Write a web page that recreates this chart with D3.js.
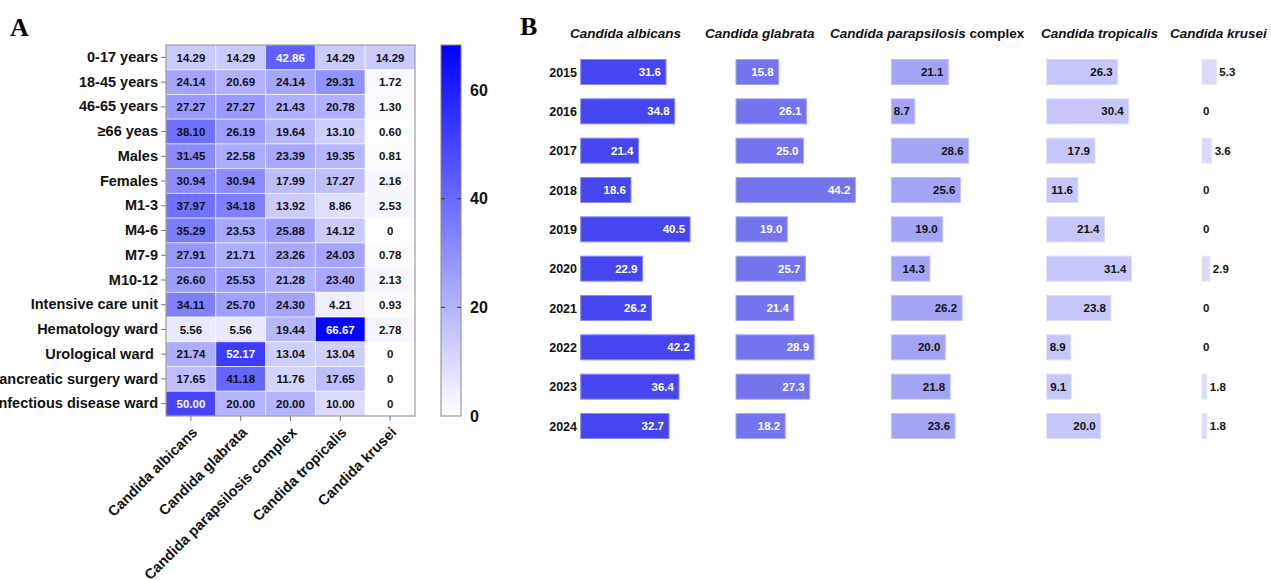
<!DOCTYPE html>
<html>
  <head>
    <meta charset="utf-8" />
    <title>Candida distribution</title>
    <script src="https://cdn.jsdelivr.net/npm/d3@7/dist/d3.min.js"></script>
    <style>
      body { margin: 0; background: #fff; }
      text { font-family: "Liberation Sans", Arial, Helvetica, sans-serif; }
    </style>
  </head>
  <body>
    <div id="canvas"></div>
  </body>
  <script>
    // ---- panel A data (percent by group) ----
    const species = ["Candida albicans", "Candida glabrata", "Candida parapsilosis complex", "Candida tropicalis", "Candida krusei"];
    const groups = ["0-17 years", "18-45 years", "46-65 years", "≥66 yeas", "Males", "Females", "M1-3", "M4-6", "M7-9", "M10-12",
      "Intensive care unit", "Hematology ward", "Urological ward\u00a0", "Pancreatic surgery ward", "Infectious disease ward"];
    const albicansA = [14.29, 24.14, 27.27, 38.10, 31.45, 30.94, 37.97, 35.29, 27.91, 26.60, 34.11, 5.56, 21.74, 17.65, 50.00];
    const glabrataA = [14.29, 20.69, 27.27, 26.19, 22.58, 30.94, 34.18, 23.53, 21.71, 25.53, 25.70, 5.56, 52.17, 41.18, 20.00];
    const parapsilosisA = [42.86, 24.14, 21.43, 19.64, 23.39, 17.99, 13.92, 25.88, 23.26, 21.28, 24.30, 19.44, 13.04, 11.76, 20.00];
    const tropicalisA = [14.29, 29.31, 20.78, 13.10, 19.35, 17.27, 8.86, 14.12, 24.03, 23.40, 4.21, 66.67, 13.04, 17.65, 10.00];
    const kruseiA = [14.29, 1.72, 1.30, 0.60, 0.81, 2.16, 2.53, 0, 0.78, 2.13, 0.93, 2.78, 0, 0, 0];
    const colorTicks = [0, 20, 40, 60];

    // ---- panel B data (percent by year) ----
    const years = ["2015", "2016", "2017", "2018", "2019", "2020", "2021", "2022", "2023", "2024"];
    const albicansB = [31.6, 34.8, 21.4, 18.6, 40.5, 22.9, 26.2, 42.2, 36.4, 32.7];
    const glabrataB = [15.8, 26.1, 25.0, 44.2, 19.0, 25.7, 21.4, 28.9, 27.3, 18.2];
    const parapsilosisB = [21.1, 8.7, 28.6, 25.6, 19.0, 14.3, 26.2, 20.0, 21.8, 23.6];
    const tropicalisB = [26.3, 30.4, 17.9, 11.6, 21.4, 31.4, 23.8, 8.9, 9.1, 20.0];
    const kruseiB = [5.3, 0, 3.6, 0, 0, 2.9, 0, 0, 1.8, 1.8];

    const width = 1271, height = 580;
    const svg = d3.select("#canvas").append("svg")
      .attr("width", width).attr("height", height)
      .attr("viewBox", [0, 0, width, height]);

    // panel letters
    svg.append("text").attr("x", 10).attr("y", 36)
      .style("font-family", "'Liberation Serif', 'Times New Roman', serif")
      .style("font-weight", "bold").style("font-size", "26px").text("A");
    svg.append("text").attr("x", 520).attr("y", 35)
      .style("font-family", "'Liberation Serif', 'Times New Roman', serif")
      .style("font-weight", "bold").style("font-size", "26px").text("B");

    // ================= Panel A: heatmap =================
    const colsA = [albicansA, glabrataA, parapsilosisA, tropicalisA, kruseiA];
    const cells = [];
    species.forEach((s, j) => groups.forEach((g, i) => cells.push({ s, g, v: colsA[j][i] })));

    const x = d3.scaleBand().domain(species).range([166, 415]);
    const y = d3.scaleBand().domain(groups).range([45, 416]);
    const color = d3.scaleLinear().domain([0, 68.3]).range(["#ffffff", "#0000ff"]);

    const hm = svg.append("g");
    hm.selectAll("rect").data(cells).join("rect")
      .attr("x", d => x(d.s)).attr("y", d => y(d.g))
      .attr("width", x.bandwidth()).attr("height", y.bandwidth())
      .attr("fill", d => color(d.v))
      .attr("stroke", "rgba(255,255,255,0.55)").attr("stroke-width", 1);

    hm.selectAll("text").data(cells).join("text")
      .attr("x", d => x(d.s) + x.bandwidth() / 2)
      .attr("y", d => y(d.g) + y.bandwidth() / 2)
      .attr("dy", "0.36em")
      .attr("text-anchor", "middle")
      .style("font-size", "11.5px").style("font-weight", "bold")
      .attr("fill", d => d.v > 42 ? "#fff" : "#111")
      .text(d => d.v === 0 ? "0" : d.v.toFixed(2));

    hm.append("rect").attr("x", 166).attr("y", 45).attr("width", 249).attr("height", 371)
      .attr("fill", "none").attr("stroke", "#888").attr("stroke-width", 1);

    // y axis
    const yAxis = svg.append("g").attr("transform", "translate(166,0)")
      .call(d3.axisLeft(y).tickSize(5).tickPadding(3));
    yAxis.select(".domain").remove();
    yAxis.selectAll("line").attr("stroke", "#777");
    yAxis.selectAll("text").style("font-size", "14.5px").style("font-weight", "bold")
      .style("font-family", "'Liberation Sans', Arial, sans-serif").attr("fill", "#111");

    // x axis
    const xAxis = svg.append("g").attr("transform", "translate(0,416)")
      .call(d3.axisBottom(x).tickSize(5));
    xAxis.select(".domain").remove();
    xAxis.selectAll("line").attr("stroke", "#777");
    xAxis.selectAll("text")
      .style("font-size", "14.5px").style("font-weight", "bold")
      .style("font-family", "'Liberation Sans', Arial, sans-serif").attr("fill", "#111")
      .attr("text-anchor", "end")
      .attr("transform", "translate(-2,8) rotate(-45)")
      .attr("x", 0).attr("y", 8).attr("dy", "0.35em");

    // color bar
    const cb = d3.scaleLinear().domain([0, 68.3]).range([416, 45]);
    const defs = svg.append("defs");
    const grad = defs.append("linearGradient").attr("id", "cbar")
      .attr("x1", 0).attr("y1", 1).attr("x2", 0).attr("y2", 0);
    grad.append("stop").attr("offset", "0%").attr("stop-color", color(0));
    grad.append("stop").attr("offset", "100%").attr("stop-color", color(68.3));
    svg.append("rect").attr("x", 441).attr("y", cb(68.3)).attr("width", 20)
      .attr("height", cb(0) - cb(68.3)).attr("fill", "url(#cbar)")
      .attr("stroke", "#888").attr("stroke-width", 1);
    const cbg = svg.append("g");
    cbg.selectAll("line.l").data(colorTicks.filter(t => t > 0)).join("line")
      .attr("x1", 441).attr("x2", 445).attr("y1", d => cb(d)).attr("y2", d => cb(d))
      .attr("stroke", "#333");
    cbg.selectAll("line.r").data(colorTicks.filter(t => t > 0)).join("line")
      .attr("x1", 457).attr("x2", 461).attr("y1", d => cb(d)).attr("y2", d => cb(d))
      .attr("stroke", "#333");
    cbg.selectAll("text").data(colorTicks).join("text")
      .attr("x", 470).attr("y", d => cb(d)).attr("dy", "0.36em")
      .style("font-size", "16px").style("font-weight", "bold").attr("fill", "#111")
      .text(d => d);

    // ================= Panel B: bars =================
    const colsB = [albicansB, glabrataB, parapsilosisB, tropicalisB, kruseiB];
    const barFill = ["#4646f0", "#7474ee", "#a4a4f6", "#c6c6fa", "#d9d9fa"];
    const barStroke = ["#8a8af6", "#a6a6f6", "#c4c4fa", "#dcdcfc", "#e6e6fc"];
    const colX = d3.scalePoint().domain(species).range([580.7, 1202]);
    const len = d3.scaleLinear().domain([0, 50]).range([0, 135]);
    const yy = d3.scalePoint().domain(years).range([72, 426]);
    const barH = 25;

    const bars = [];
    species.forEach((s, j) => years.forEach((yr, i) => bars.push({ s, j, yr, v: colsB[j][i] })));

    const gB = svg.append("g");
    gB.selectAll("rect").data(bars.filter(d => d.v > 0)).join("rect")
      .attr("x", d => colX(d.s)).attr("y", d => yy(d.yr) - barH / 2)
      .attr("width", d => len(d.v)).attr("height", barH)
      .attr("fill", d => barFill[d.j]).attr("stroke", d => barStroke[d.j]).attr("stroke-width", 1);

    gB.selectAll("text").data(bars).join("text")
      .attr("x", d => d.j === 4 ? colX(d.s) + len(d.v) + (d.v > 0 ? 3 : 1) : colX(d.s) + len(d.v) - 5)
      .attr("y", d => yy(d.yr)).attr("dy", "0.36em")
      .attr("text-anchor", d => d.j === 4 ? "start" : "end")
      .style("font-size", "11.5px").style("font-weight", "bold")
      .attr("fill", d => d.j < 2 ? "#fff" : "#111")
      .text(d => d.v === 0 ? "0" : d.v.toFixed(1));

    // year labels
    svg.append("g").selectAll("text").data(years).join("text")
      .attr("x", 577).attr("y", d => yy(d)).attr("dy", "0.36em")
      .attr("text-anchor", "end")
      .style("font-size", "12.5px").style("font-weight", "bold").attr("fill", "#111")
      .text(d => d);

    // column headers
    const headOffset = [-10.7, -31, -61.3, -5.7, -32];
    const heads = svg.append("g").selectAll("text").data(species).join("text")
      .attr("x", (d, j) => colX(d) + headOffset[j]).attr("y", 38)
      .style("font-size", "13.5px").style("font-weight", "bold").attr("fill", "#111");
    heads.each(function (d) {
      const t = d3.select(this);
      if (d.endsWith(" complex")) {
        t.append("tspan").style("font-style", "italic").text(d.replace(" complex", ""));
        t.append("tspan").text(" complex");
      } else {
        t.append("tspan").style("font-style", "italic").text(d);
      }
    });
  </script>
</html>
